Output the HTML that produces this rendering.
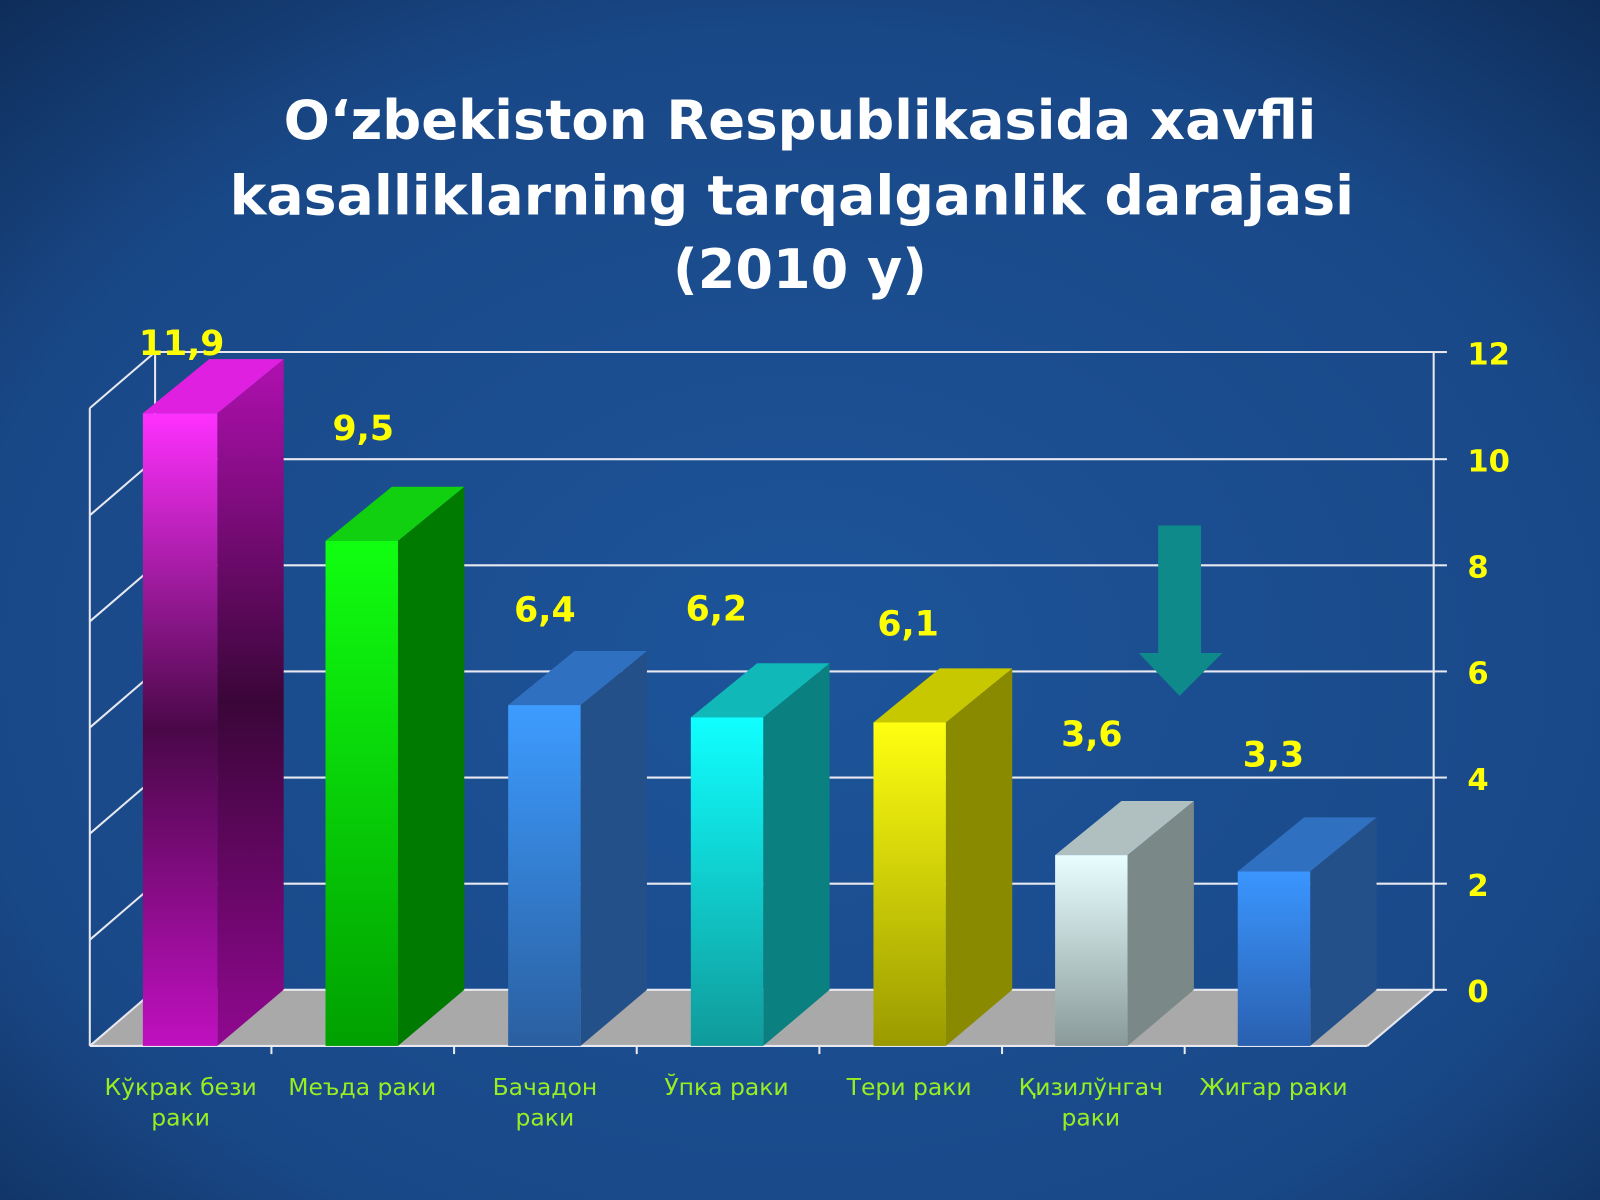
<!DOCTYPE html>
<html><head><meta charset="utf-8"><style>
html,body{margin:0;padding:0;width:1600px;height:1200px;overflow:hidden;background:#173f7a}
svg{display:block}
</style></head><body>
<svg width="1600" height="1200" viewBox="0 0 1568 1176" preserveAspectRatio="none" xmlns="http://www.w3.org/2000/svg">
<defs>
<radialGradient id="bg" cx="50%" cy="55%" r="75%">
<stop offset="0" stop-color="#1d549a"/><stop offset="0.7" stop-color="#194887"/><stop offset="1" stop-color="#0e2c58"/></radialGradient>
<linearGradient id="g1" x1="0" y1="0" x2="0" y2="1"><stop offset="0" stop-color="#ff30ff"/><stop offset="0.5" stop-color="#4a0848"/><stop offset="1" stop-color="#c010c0"/></linearGradient>
<linearGradient id="g1s" x1="0" y1="0" x2="0" y2="1"><stop offset="0" stop-color="#b010b0"/><stop offset="0.5" stop-color="#3a0638"/><stop offset="1" stop-color="#900890"/></linearGradient>
<linearGradient id="g2" x1="0" y1="0" x2="0" y2="1"><stop offset="0" stop-color="#10ff10"/><stop offset="1" stop-color="#00a000"/></linearGradient>
<linearGradient id="g3" x1="0" y1="0" x2="0" y2="1"><stop offset="0" stop-color="#3d9cff"/><stop offset="1" stop-color="#2a5fa0"/></linearGradient>
<linearGradient id="g4" x1="0" y1="0" x2="0" y2="1"><stop offset="0" stop-color="#10ffff"/><stop offset="1" stop-color="#109a9a"/></linearGradient>
<linearGradient id="g5" x1="0" y1="0" x2="0" y2="1"><stop offset="0" stop-color="#ffff10"/><stop offset="1" stop-color="#9a9a00"/></linearGradient>
<linearGradient id="g6" x1="0" y1="0" x2="0" y2="1"><stop offset="0" stop-color="#e8ffff"/><stop offset="1" stop-color="#8a9a9a"/></linearGradient>
<linearGradient id="g7" x1="0" y1="0" x2="0" y2="1"><stop offset="0" stop-color="#3a96ff"/><stop offset="1" stop-color="#2a60b0"/></linearGradient>
</defs>
<rect width="1568" height="1176" fill="url(#bg)"/>
<g font-family="'DejaVu Sans','Liberation Sans',sans-serif" font-weight="bold" fill="#fff" text-anchor="middle" font-size="53">
<text x="784" y="136" textLength="1012" lengthAdjust="spacingAndGlyphs">O‘zbekiston Respublikasida xavfli</text>
<text x="776" y="210" textLength="1102" lengthAdjust="spacingAndGlyphs">kasalliklarning tarqalganlik darajasi</text>
<text x="784" y="282">(2010 y)</text>
</g>
<polygon points="152,970 1405,970 1340,1025 88,1025" fill="#a9a9a9"/>
<g stroke="#e8e8f0" stroke-width="2" fill="none">
<polyline points="152,345 1405,345"/>
<line x1="152" y1="450" x2="1405" y2="450"/><line x1="152" y1="554" x2="1405" y2="554"/>
<line x1="152" y1="658" x2="1405" y2="658"/><line x1="152" y1="762" x2="1405" y2="762"/>
<line x1="152" y1="866" x2="1405" y2="866"/><line x1="152" y1="970" x2="1405" y2="970"/>
<line x1="152" y1="345" x2="152" y2="970"/><line x1="1405" y1="345" x2="1405" y2="970"/>
<line x1="88" y1="400" x2="88" y2="1025"/><line x1="88" y1="1025" x2="1340" y2="1025"/>
<line x1="1340" y1="1025" x2="1405" y2="970"/>
<line x1="152" y1="345" x2="88" y2="400"/><line x1="152" y1="450" x2="88" y2="505"/>
<line x1="152" y1="554" x2="88" y2="609"/><line x1="152" y1="658" x2="88" y2="713"/>
<line x1="152" y1="762" x2="88" y2="817"/><line x1="152" y1="866" x2="88" y2="921"/>
<line x1="152" y1="970" x2="88" y2="1025"/>
<line x1="1405" y1="345" x2="1418" y2="345"/><line x1="1405" y1="450" x2="1418" y2="450"/>
<line x1="1405" y1="554" x2="1418" y2="554"/><line x1="1405" y1="658" x2="1418" y2="658"/>
<line x1="1405" y1="762" x2="1418" y2="762"/><line x1="1405" y1="866" x2="1418" y2="866"/>
<line x1="1405" y1="970" x2="1418" y2="970"/>
<line x1="266" y1="1025" x2="266" y2="1033"/><line x1="445" y1="1025" x2="445" y2="1033"/>
<line x1="624" y1="1025" x2="624" y2="1033"/><line x1="803" y1="1025" x2="803" y2="1033"/>
<line x1="982" y1="1025" x2="982" y2="1033"/><line x1="1161" y1="1025" x2="1161" y2="1033"/>
</g>
<g>
<polygon points="213,405 278,352 278,970 213,1025" fill="url(#g1s)"/><polygon points="140,405 205,352 278,352 213,405" fill="#e020e0"/><rect x="140" y="405" width="73" height="620" fill="url(#g1)"/>
<polygon points="390,530 455,477 455,970 390,1025" fill="#007a00"/><polygon points="319,530 384,477 455,477 390,530" fill="#10d010"/><rect x="319" y="530" width="71" height="495" fill="url(#g2)"/>
<polygon points="569,691 634,638 634,970 569,1025" fill="#24508a"/><polygon points="498,691 563,638 634,638 569,691" fill="#3070c0"/><rect x="498" y="691" width="71" height="334" fill="url(#g3)"/>
<polygon points="748,703 813,650 813,970 748,1025" fill="#0a8080"/><polygon points="677,703 742,650 813,650 748,703" fill="#10b8b8"/><rect x="677" y="703" width="71" height="322" fill="url(#g4)"/>
<polygon points="927,708 992,655 992,970 927,1025" fill="#8a8a00"/><polygon points="856,708 921,655 992,655 927,708" fill="#c8c800"/><rect x="856" y="708" width="71" height="317" fill="url(#g5)"/>
<polygon points="1105,838 1170,785 1170,970 1105,1025" fill="#7a8888"/><polygon points="1034,838 1099,785 1170,785 1105,838" fill="#b0c0c0"/><rect x="1034" y="838" width="71" height="187" fill="url(#g6)"/>
<polygon points="1284,854 1349,801 1349,970 1284,1025" fill="#24508a"/><polygon points="1213,854 1278,801 1349,801 1284,854" fill="#3070c0"/><rect x="1213" y="854" width="71" height="171" fill="url(#g7)"/>
</g>
<polygon points="1135,515 1177,515 1177,640 1198,640 1156,682 1116,640 1135,640" fill="#0e8a8a"/>
<g font-family="'DejaVu Sans','Liberation Sans',sans-serif" font-weight="bold" fill="#ffff00" font-size="34" text-anchor="middle">
<text x="178" y="348">11,9</text><text x="356" y="431">9,5</text><text x="534" y="609">6,4</text>
<text x="702" y="608">6,2</text><text x="890" y="623">6,1</text><text x="1070" y="731">3,6</text><text x="1248" y="751">3,3</text>
</g>
<g font-family="'DejaVu Sans','Liberation Sans',sans-serif" font-weight="bold" fill="#ffff00" font-size="30">
<text x="1438" y="357">12</text><text x="1438" y="462">10</text><text x="1438" y="566">8</text>
<text x="1438" y="670">6</text><text x="1438" y="774">4</text><text x="1438" y="878">2</text><text x="1438" y="982">0</text>
</g>
<g font-family="'DejaVu Sans','Liberation Sans',sans-serif" fill="#99ee22" font-size="23" text-anchor="middle">
<text x="177" y="1073">Кўкрак бези</text><text x="177" y="1103">раки</text>
<text x="355" y="1073">Меъда раки</text>
<text x="534" y="1073">Бачадон</text><text x="534" y="1103">раки</text>
<text x="712" y="1073">Ўпка раки</text>
<text x="891" y="1073">Тери раки</text>
<text x="1069" y="1073">Қизилўнгач</text><text x="1069" y="1103">раки</text>
<text x="1248" y="1073">Жигар раки</text>
</g>
</svg>
</body></html>
